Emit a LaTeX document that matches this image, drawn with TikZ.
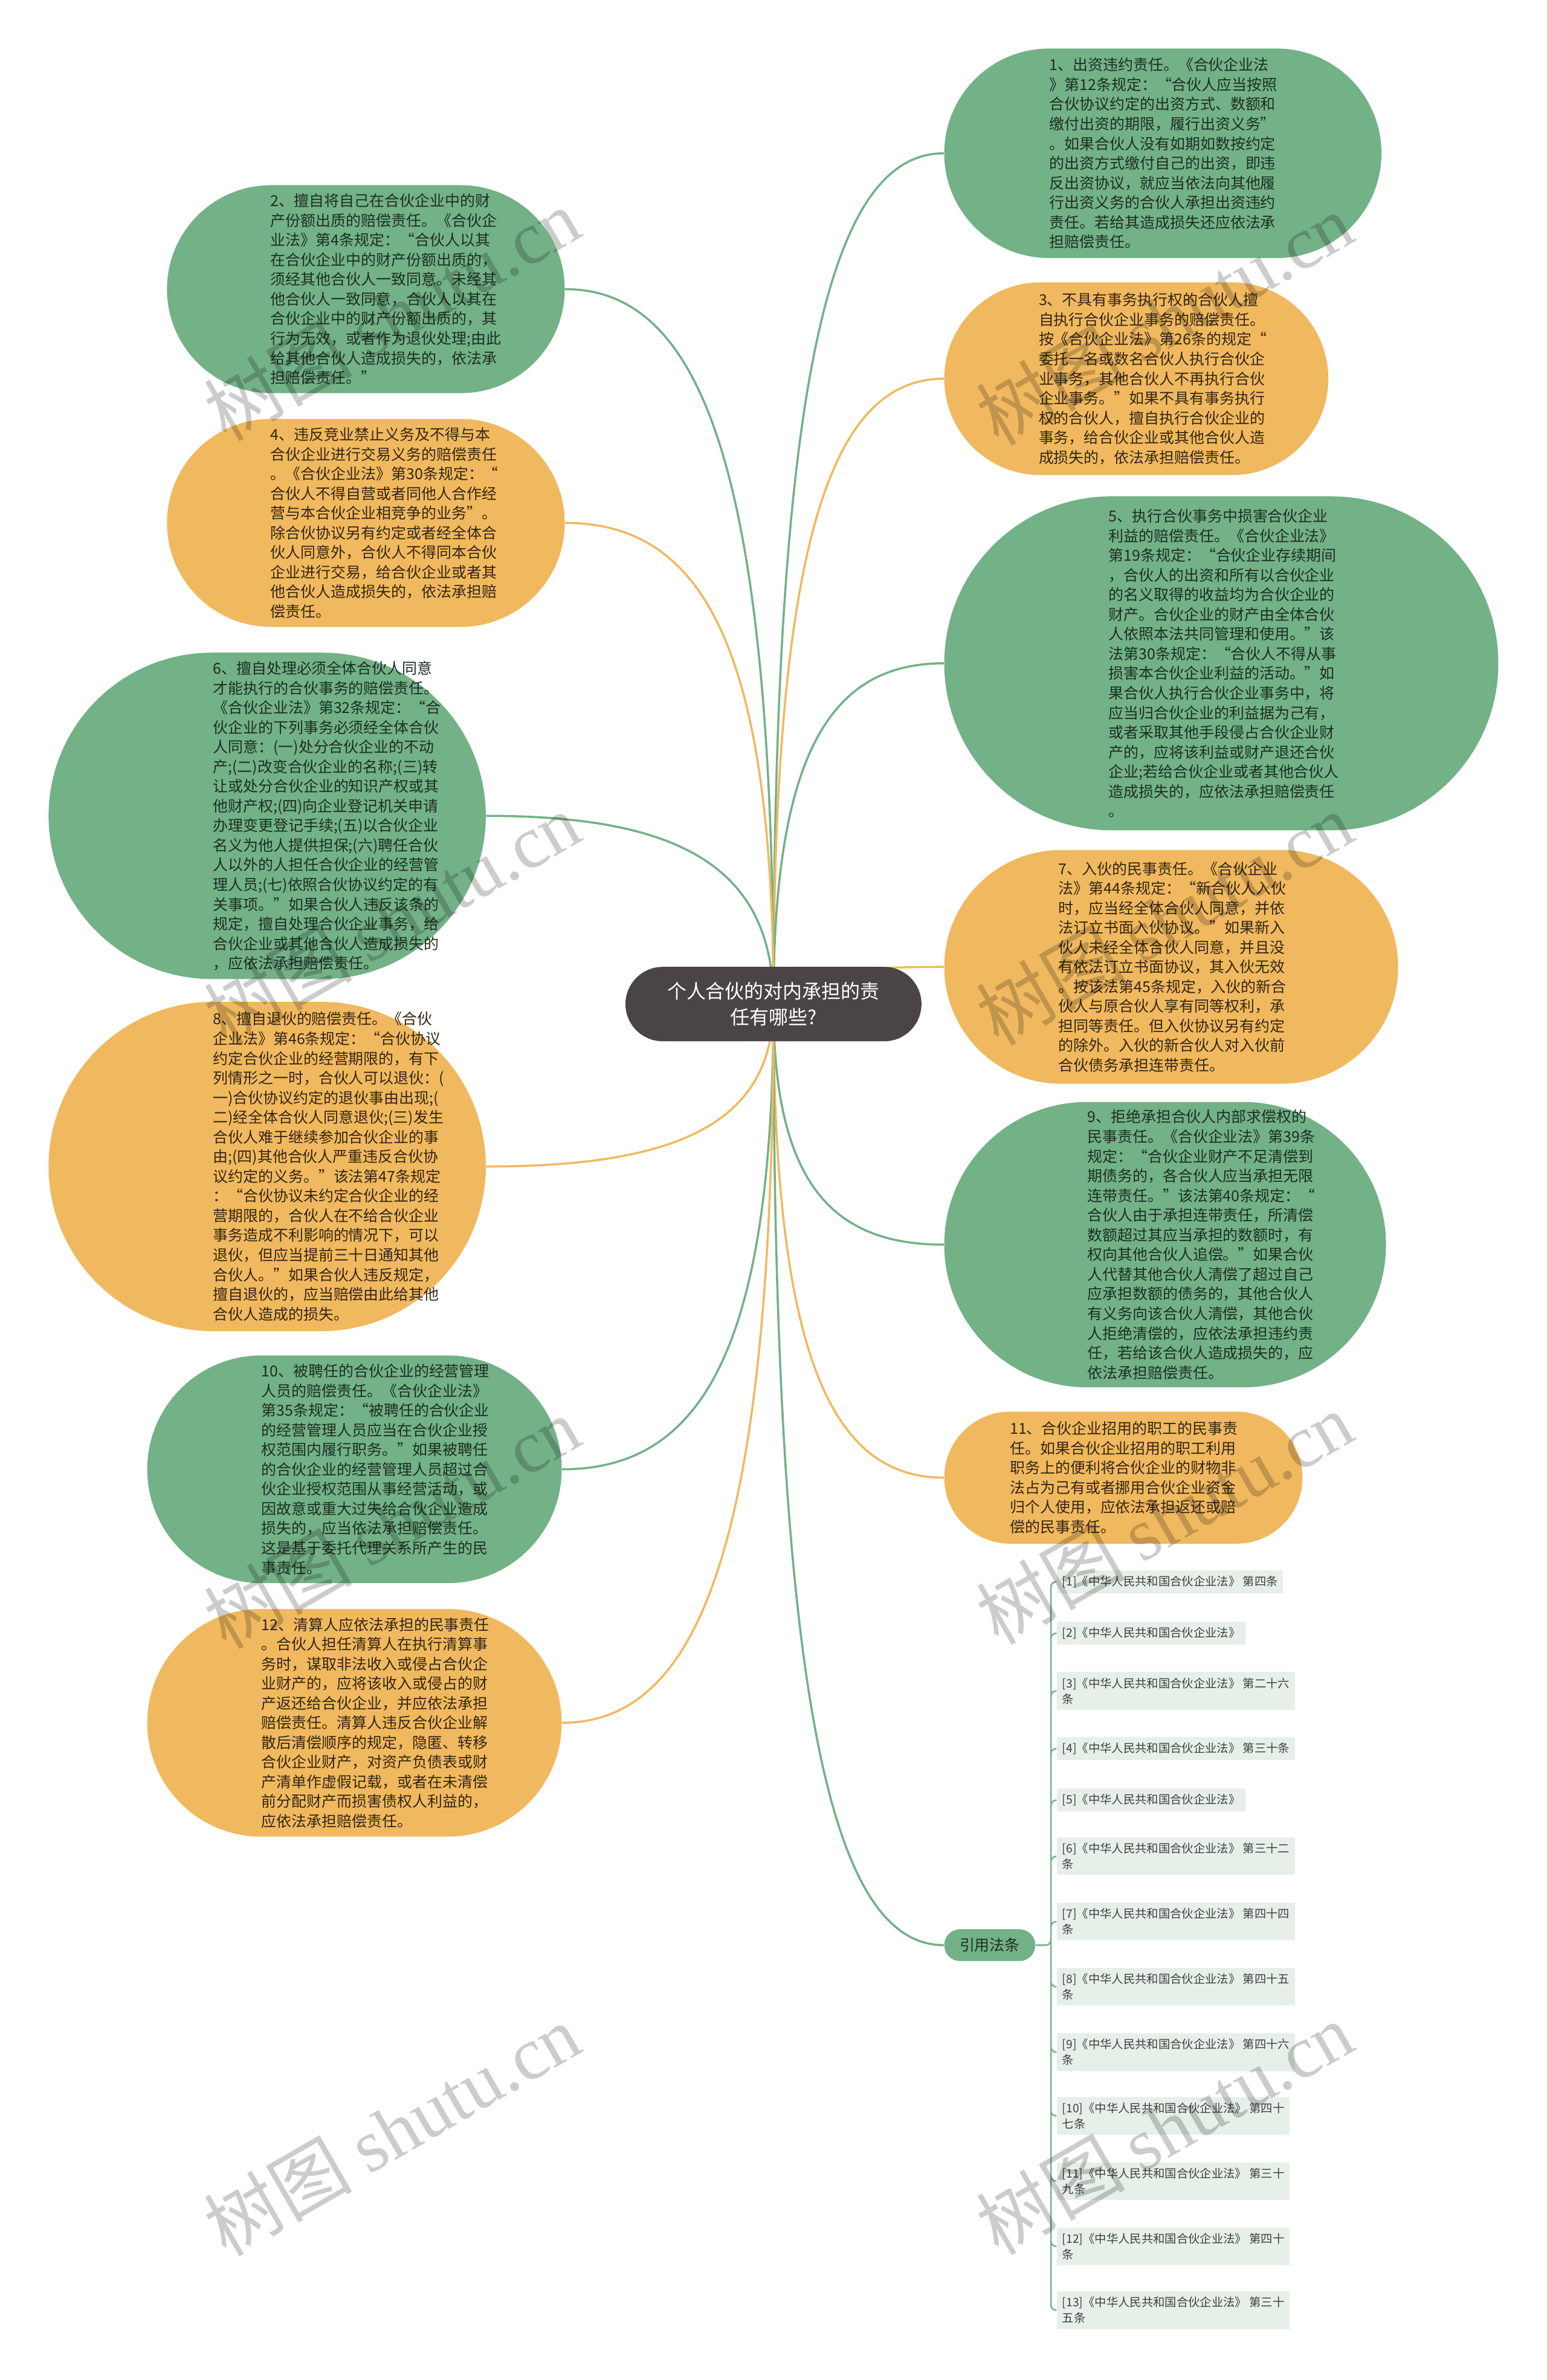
\documentclass[tikz,border=0pt]{standalone}
\usepackage{fontspec}
\setmainfont{Noto Sans CJK SC}
\newfontfamily\wmfont{Liberation Serif}
\usetikzlibrary{shapes.misc,calc,backgrounds}

% 颜色
\definecolor{zhgreen}{HTML}{73B187}
\definecolor{zhyellow}{HTML}{F0B95F}
\definecolor{zhroot}{HTML}{4A4446}
\definecolor{zhcite}{HTML}{E6F0E8}
\definecolor{zhgtext}{HTML}{1C2F22}
\definecolor{zhytext}{HTML}{352612}

% 一个画面单位
\newlength{\pxu}
\setlength{\pxu}{0.2512mm}

\begin{document}
\begin{tikzpicture}[x=0.2512mm, y=-0.2512mm,
    bubble/.style={rounded rectangle, inner sep=0pt},
    gbub/.style={bubble, fill=zhgreen},
    ybub/.style={bubble, fill=zhyellow},
    btext/.style={anchor=west, align=left, inner sep=0pt, font=\fontsize{7.1}{9.26}\selectfont},
    gtext/.style={btext, text=zhgtext},
    ytext/.style={btext, text=zhytext},
    branch/.style={line width=1pt, to path={.. controls ($(\tikztostart)!0.75!(\tikztostart|-\tikztotarget)$) and ($(\tikztotarget)!0.65!(\tikztostart|-\tikztotarget)$) .. (\tikztotarget)}},
    glink/.style={branch, draw=zhgreen},
    ylink/.style={branch, draw=zhyellow},
    citebox/.style={anchor=west, fill=zhcite, align=left, inner xsep=2.5pt, inner ysep=2.6pt, text=black!75, font=\fontsize{5.5}{7.4}\selectfont},
    citelink/.style={draw=zhgreen, line width=0.7pt, rounded corners=2.5pt},
    wmark/.style={rotate=30, text=black, opacity=0.2, inner sep=0pt, font=\fontsize{35}{40}\selectfont}]

    \useasboundingbox (0,0) rectangle (1019,1568);

    % === 中心主题 ===
    \node[rounded rectangle, fill=zhroot, text=white, align=center, inner sep=0pt,
          minimum width=195\pxu, minimum height=49\pxu, font=\fontsize{9.1}{12.1}\selectfont]
          (root) at (509.5,661.5) {个人合伙的对内承担的责\\任有哪些?};

    % === 右侧气泡 ===
    \node[gbub, minimum width=288\pxu, minimum height=138\pxu] (b1) at (766,101) {};
    \node[gtext] (t1) at (691,101) {1、出资违约责任。《合伙企业法\\》第12条规定：“合伙人应当按照\\合伙协议约定的出资方式、数额和\\缴付出资的期限，履行出资义务”\\。如果合伙人没有如期如数按约定\\的出资方式缴付自己的出资，即违\\反出资协议，就应当依法向其他履\\行出资义务的合伙人承担出资违约\\责任。若给其造成损失还应依法承\\担赔偿责任。};

    \node[ybub, minimum width=253\pxu, minimum height=127\pxu] (b3) at (748.5,249.5) {};
    \node[ytext] (t3) at (684,249.5) {3、不具有事务执行权的合伙人擅\\自执行合伙企业事务的赔偿责任。\\按《合伙企业法》第26条的规定“\\委托一名或数名合伙人执行合伙企\\业事务，其他合伙人不再执行合伙\\企业事务。”如果不具有事务执行\\权的合伙人，擅自执行合伙企业的\\事务，给合伙企业或其他合伙人造\\成损失的，依法承担赔偿责任。};

    \node[gbub, minimum width=365\pxu, minimum height=220\pxu] (b5) at (804.5,437) {};
    \node[gtext] (t5) at (730,437) {5、执行合伙事务中损害合伙企业\\利益的赔偿责任。《合伙企业法》\\第19条规定：“合伙企业存续期间\\，合伙人的出资和所有以合伙企业\\的名义取得的收益均为合伙企业的\\财产。合伙企业的财产由全体合伙\\人依照本法共同管理和使用。”该\\法第30条规定：“合伙人不得从事\\损害本合伙企业利益的活动。”如\\果合伙人执行合伙企业事务中，将\\应当归合伙企业的利益据为己有，\\或者采取其他手段侵占合伙企业财\\产的，应将该利益或财产退还合伙\\企业;若给合伙企业或者其他合伙人\\造成损失的，应依法承担赔偿责任\\。};

    \node[ybub, minimum width=299\pxu, minimum height=154\pxu] (b7) at (771.5,637) {};
    \node[ytext] (t7) at (697,637) {7、入伙的民事责任。《合伙企业\\法》第44条规定：“新合伙人入伙\\时，应当经全体合伙人同意，并依\\法订立书面入伙协议。”如果新入\\伙人未经全体合伙人同意，并且没\\有依法订立书面协议，其入伙无效\\。按该法第45条规定，入伙的新合\\伙人与原合伙人享有同等权利，承\\担同等责任。但入伙协议另有约定\\的除外。入伙的新合伙人对入伙前\\合伙债务承担连带责任。};

    \node[gbub, minimum width=291\pxu, minimum height=188\pxu] (b9) at (767.5,820) {};
    \node[gtext] (t9) at (716,820) {9、拒绝承担合伙人内部求偿权的\\民事责任。《合伙企业法》第39条\\规定：“合伙企业财产不足清偿到\\期债务的，各合伙人应当承担无限\\连带责任。”该法第40条规定：“\\合伙人由于承担连带责任，所清偿\\数额超过其应当承担的数额时，有\\权向其他合伙人追偿。”如果合伙\\人代替其他合伙人清偿了超过自己\\应承担数额的债务的，其他合伙人\\有义务向该合伙人清偿，其他合伙\\人拒绝清偿的，应依法承担违约责\\任，若给该合伙人造成损失的，应\\依法承担赔偿责任。};

    \node[ybub, minimum width=236\pxu, minimum height=87\pxu] (b11) at (740,973.5) {};
    \node[ytext] (t11) at (665,973.5) {11、合伙企业招用的职工的民事责\\任。如果合伙企业招用的职工利用\\职务上的便利将合伙企业的财物非\\法占为己有或者挪用合伙企业资金\\归个人使用，应依法承担返还或赔\\偿的民事责任。};

    % === 左侧气泡 ===
    \node[gbub, minimum width=262\pxu, minimum height=137\pxu] (b2) at (241,190.5) {};
    \node[gtext] (t2) at (178,190.5) {2、擅自将自己在合伙企业中的财\\产份额出质的赔偿责任。《合伙企\\业法》第4条规定：“合伙人以其\\在合伙企业中的财产份额出质的，\\须经其他合伙人一致同意。未经其\\他合伙人一致同意，合伙人以其在\\合伙企业中的财产份额出质的，其\\行为无效，或者作为退伙处理;由此\\给其他合伙人造成损失的，依法承\\担赔偿责任。”};

    \node[ybub, minimum width=262\pxu, minimum height=137\pxu] (b4) at (241,344.5) {};
    \node[ytext] (t4) at (178,344.5) {4、违反竞业禁止义务及不得与本\\合伙企业进行交易义务的赔偿责任\\。《合伙企业法》第30条规定：“\\合伙人不得自营或者同他人合作经\\营与本合伙企业相竞争的业务”。\\除合伙协议另有约定或者经全体合\\伙人同意外，合伙人不得同本合伙\\企业进行交易，给合伙企业或者其\\他合伙人造成损失的，依法承担赔\\偿责任。};

    \node[gbub, minimum width=288\pxu, minimum height=215\pxu] (b6) at (176,537.5) {};
    \node[gtext] (t6) at (140,537.5) {6、擅自处理必须全体合伙人同意\\才能执行的合伙事务的赔偿责任。\\《合伙企业法》第32条规定：“合\\伙企业的下列事务必须经全体合伙\\人同意：(一)处分合伙企业的不动\\产;(二)改变合伙企业的名称;(三)转\\让或处分合伙企业的知识产权或其\\他财产权;(四)向企业登记机关申请\\办理变更登记手续;(五)以合伙企业\\名义为他人提供担保;(六)聘任合伙\\人以外的人担任合伙企业的经营管\\理人员;(七)依照合伙协议约定的有\\关事项。”如果合伙人违反该条的\\规定，擅自处理合伙企业事务，给\\合伙企业或其他合伙人造成损失的\\，应依法承担赔偿责任。};

    \node[ybub, minimum width=288\pxu, minimum height=217\pxu] (b8) at (176,768.5) {};
    \node[ytext] (t8) at (140,768.5) {8、擅自退伙的赔偿责任。《合伙\\企业法》第46条规定：“合伙协议\\约定合伙企业的经营期限的，有下\\列情形之一时，合伙人可以退伙：(\\一)合伙协议约定的退伙事由出现;(\\二)经全体合伙人同意退伙;(三)发生\\合伙人难于继续参加合伙企业的事\\由;(四)其他合伙人严重违反合伙协\\议约定的义务。”该法第47条规定\\：“合伙协议未约定合伙企业的经\\营期限的，合伙人在不给合伙企业\\事务造成不利影响的情况下，可以\\退伙，但应当提前三十日通知其他\\合伙人。”如果合伙人违反规定，\\擅自退伙的，应当赔偿由此给其他\\合伙人造成的损失。};

    \node[gbub, minimum width=273\pxu, minimum height=150\pxu] (b10) at (233.5,968) {};
    \node[gtext] (t10) at (172,968) {10、被聘任的合伙企业的经营管理\\人员的赔偿责任。《合伙企业法》\\第35条规定：“被聘任的合伙企业\\的经营管理人员应当在合伙企业授\\权范围内履行职务。”如果被聘任\\的合伙企业的经营管理人员超过合\\伙企业授权范围从事经营活动，或\\因故意或重大过失给合伙企业造成\\损失的，应当依法承担赔偿责任。\\这是基于委托代理关系所产生的民\\事责任。};

    \node[ybub, minimum width=273\pxu, minimum height=150\pxu] (b12) at (233.5,1135) {};
    \node[ytext] (t12) at (172,1135) {12、清算人应依法承担的民事责任\\。合伙人担任清算人在执行清算事\\务时，谋取非法收入或侵占合伙企\\业财产的，应将该收入或侵占的财\\产返还给合伙企业，并应依法承担\\赔偿责任。清算人违反合伙企业解\\散后清偿顺序的规定，隐匿、转移\\合伙企业财产，对资产负债表或财\\产清单作虚假记载，或者在未清偿\\前分配财产而损害债权人利益的，\\应依法承担赔偿责任。};

    % === 引用法条 ===
    \node[gbub, minimum width=60\pxu, minimum height=21\pxu, text=zhgtext,
          font=\fontsize{7.1}{9}\selectfont] (yf) at (652,1281.5) {引用法条};
    \coordinate (yfj) at ($(yf.east)+(10,0)$);

    \node[citebox] (c1) at (696,1042) {[1]《中华人民共和国合伙企业法》 第四条};
    \node[citebox] (c2) at (696,1076) {[2]《中华人民共和国合伙企业法》};
    \node[citebox] (c3) at (696,1114) {[3]《中华人民共和国合伙企业法》 第二十六\\条};
    \node[citebox] (c4) at (696,1152) {[4]《中华人民共和国合伙企业法》 第三十条};
    \node[citebox] (c5) at (696,1186) {[5]《中华人民共和国合伙企业法》};
    \node[citebox] (c6) at (696,1223) {[6]《中华人民共和国合伙企业法》 第三十二\\条};
    \node[citebox] (c7) at (696,1266) {[7]《中华人民共和国合伙企业法》 第四十四\\条};
    \node[citebox] (c8) at (696,1309) {[8]《中华人民共和国合伙企业法》 第四十五\\条};
    \node[citebox] (c9) at (696,1352) {[9]《中华人民共和国合伙企业法》 第四十六\\条};
    \node[citebox] (c10) at (696,1394) {[10]《中华人民共和国合伙企业法》 第四十\\七条};
    \node[citebox] (c11) at (696,1437) {[11]《中华人民共和国合伙企业法》 第三十\\九条};
    \node[citebox] (c12) at (696,1480) {[12]《中华人民共和国合伙企业法》 第四十\\条};
    \node[citebox] (c13) at (696,1522) {[13]《中华人民共和国合伙企业法》 第三十\\五条};

    % === 底层：白底和所有连线 ===
    \begin{scope}[on background layer]
        \fill[white] (0,0) rectangle (1019,1568);
        % 右侧分支
        \draw[glink] (root.center) to (b1.west);
        \draw[ylink] (root.center) to (b3.west);
        \draw[glink] (root.center) to (b5.west);
        \draw[ylink] (root.center) to (b7.west);
        \draw[glink] (root.center) to (b9.west);
        \draw[ylink] (root.center) to (b11.west);
        \draw[glink] (root.center) to (yf.west);
        % 左侧分支
        \draw[glink] (root.center) to (b2.east);
        \draw[ylink] (root.center) to (b4.east);
        \draw[glink] (root.center) to (b6.east);
        \draw[ylink] (root.center) to (b8.east);
        \draw[glink] (root.center) to (b10.east);
        \draw[ylink] (root.center) to (b12.east);
        % 引用法条的子项
        \draw[citelink] (yf.east) -- (yfj) |- (c1.west) (yfj) |- (c2.west)
            (yfj) |- (c3.west) (yfj) |- (c4.west) (yfj) |- (c5.west)
            (yfj) |- (c6.west) (yfj) |- (c7.west) (yfj) |- (c8.west)
            (yfj) |- (c9.west) (yfj) |- (c10.west) (yfj) |- (c11.west)
            (yfj) |- (c12.west) (yfj) |- (c13.west);
    \end{scope}

    % === 水印 ===
    \node[wmark] (wm1) at (258,207) {树图 {\wmfont shutu.cn}};
    \node[wmark] (wm2) at (767,210) {树图 {\wmfont shutu.cn}};
    \node[wmark] (wm3) at (258,605) {树图 {\wmfont shutu.cn}};
    \node[wmark] (wm4) at (767,605) {树图 {\wmfont shutu.cn}};
    \node[wmark] (wm5) at (258,1003) {树图 {\wmfont shutu.cn}};
    \node[wmark] (wm6) at (767,1000) {树图 {\wmfont shutu.cn}};
    \node[wmark] (wm7) at (258,1403) {树图 {\wmfont shutu.cn}};
    \node[wmark] (wm8) at (767,1402) {树图 {\wmfont shutu.cn}};
\end{tikzpicture}
\end{document}
